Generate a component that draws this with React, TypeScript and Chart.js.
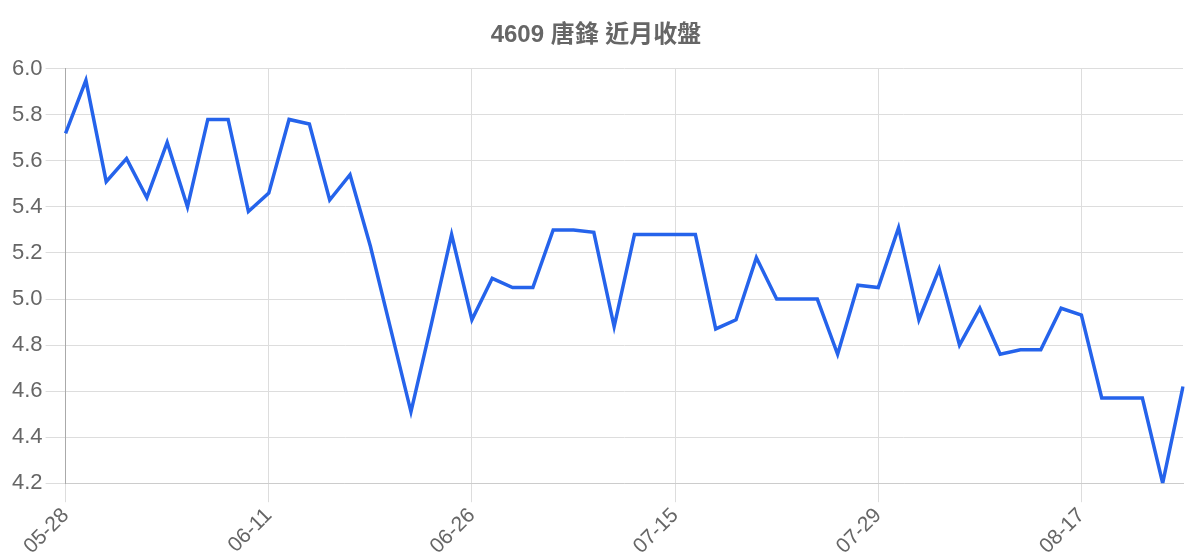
import React from 'react';
import Chart from 'chart.js/auto';

const TITLE = '4609 唐鋒 近月收盤';

const dates = [
    '05-28', '05-29', '05-30', '05-31', '06-03', '06-04', '06-05', '06-06', '06-07', '06-10',
    '06-11', '06-12', '06-13', '06-14', '06-17', '06-18', '06-19', '06-20', '06-21', '06-24',
    '06-26', '06-27', '06-28', '07-01', '07-02', '07-03', '07-05', '07-08', '07-10', '07-12',
    '07-15', '07-16', '07-17', '07-18', '07-19', '07-22', '07-23', '07-24', '07-25', '07-26',
    '07-29', '07-30', '07-31', '08-01', '08-02', '08-05', '08-07', '08-09', '08-12', '08-14',
    '08-17', '08-19', '08-20', '08-21', '08-22', '08-23',
];

const closes = [
    5.72, 5.95, 5.51, 5.61, 5.44, 5.68, 5.40, 5.78, 5.78, 5.38,
    5.46, 5.78, 5.76, 5.43, 5.54, 5.23, 4.87, 4.51, 4.89, 5.28,
    4.91, 5.09, 5.05, 5.05, 5.30, 5.30, 5.29, 4.88, 5.28, 5.28,
    5.28, 5.28, 4.87, 4.91, 5.18, 5.00, 5.00, 5.00, 4.76, 5.06,
    5.05, 5.31, 4.91, 5.13, 4.80, 4.96, 4.76, 4.78, 4.78, 4.96,
    4.93, 4.57, 4.57, 4.57, 4.20, 4.62,
];

const LABEL_EVERY = 10;
const FONT = "'Liberation Sans', Arial, 'Noto Sans CJK TC', sans-serif";

const CloseChart = () => {
    const canvasRef = React.useRef<HTMLCanvasElement>(null);

    React.useEffect(() => {
        const canvas = canvasRef.current;
        if (!canvas) return;

        const chart = new Chart(canvas, {
            type: 'line',
            data: {
                labels: dates,
                datasets: [{
                    label: '收盤',
                    data: closes,
                    fill: false,
                    borderColor: '#2563eb',
                    borderWidth: 3.5,
                    pointRadius: 0,
                    tension: 0,
                }],
            },
            options: {
                animation: false,
                responsive: true,
                maintainAspectRatio: false,
                layout: { padding: { left: 1, right: 9 } },
                plugins: {
                    legend: { display: false },
                    tooltip: { enabled: false },
                    title: {
                        display: true,
                        text: TITLE,
                        color: '#666',
                        font: { family: FONT, size: 24, weight: 'bold' },
                        padding: { top: 21, bottom: 19 },
                    },
                },
                scales: {
                    x: {
                        border: { color: '#ccc' },
                        grid: { tickLength: 19, color: '#ddd' },
                        ticks: {
                            autoSkip: false,
                            minRotation: 45,
                            maxRotation: 45,
                            padding: 1,
                            color: '#666',
                            font: { family: FONT, size: 21 },
                            // null hides the label and its grid line
                            callback: (_v: any, i: number) => (i % LABEL_EVERY === 0 ? dates[i] : null),
                        },
                    },
                    y: {
                        min: 4.2,
                        max: 6.0,
                        border: { color: '#aaa' },
                        grid: { tickLength: 20, color: '#ddd' },
                        ticks: {
                            stepSize: 0.2,
                            color: '#666',
                            font: { family: FONT, size: 22 },
                            callback: (v: any) => Number(v).toFixed(1),
                        },
                    },
                },
            },
        });

        return () => {
            chart.destroy();
        };
    }, []);

    return (
        <div style={{ position: 'relative', height: 544 }}>
            <div style={{ position: 'absolute', left: 0, top: -8, width: '100%', height: 560 }}>
                <canvas ref={canvasRef}></canvas>
            </div>
        </div>
    );
};

export default function App() {
    return <CloseChart />;
}
